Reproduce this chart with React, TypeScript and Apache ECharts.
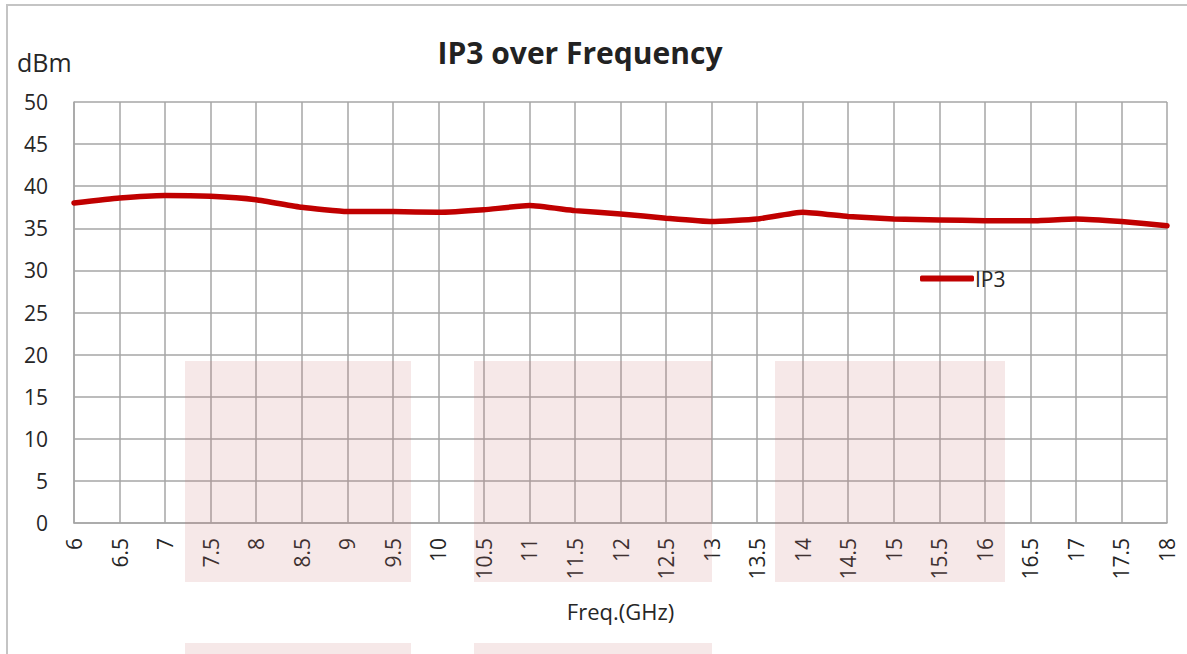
import React, { useEffect, useRef } from "react";
import * as echarts from "echarts";

const freqs = ["6","6.5","7","7.5","8","8.5","9","9.5","10","10.5","11","11.5","12","12.5","13","13.5","14","14.5","15","15.5","16","16.5","17","17.5","18"];
const ip3 = [38.0,38.6,38.9,38.8,38.4,37.5,37.0,37.0,36.9,37.2,37.7,37.1,36.7,36.2,35.8,36.1,36.9,36.4,36.1,36.0,35.9,35.9,36.1,35.8,35.3];
const yTicks = { min: 0, max: 50, interval: 5 };

const FONT = "'Open Sans', 'Liberation Sans', sans-serif";
const GRID = "#a6a6a6";

export default function App() {
  const ref = useRef<HTMLDivElement>(null);
  useEffect(() => {
    const chart = echarts.init(ref.current!, null, { renderer: "svg" });
    const pink = "rgba(200,110,115,0.16)";
    chart.setOption({
      animation: false,
      backgroundColor: "#ffffff",
      title: {
        text: "IP3 over Frequency",
        left: 575,
        top: 32,
        textAlign: "center",
        textStyle: { fontFamily: FONT, fontSize: 30, fontWeight: "bold", color: "#222" },
      },
      legend: {
        left: 915,
        top: 263,
        itemWidth: 54,
        itemHeight: 6,
        itemGap: 0,
        textStyle: { fontFamily: FONT, fontSize: 21, color: "#262626", padding: [0, 0, 0, -4] },
        data: [{ name: "IP3", icon: "roundRect" }],
      },
      grid: { left: 74, top: 102, right: 20, bottom: 131, containLabel: false },
      xAxis: {
        type: "category",
        data: freqs,
        boundaryGap: false,
        name: "Freq.(GHz)",
        nameLocation: "middle",
        nameGap: 77,
        nameTextStyle: { fontFamily: FONT, fontSize: 22, color: "#262626" },
        axisLine: { show: true, lineStyle: { color: GRID, width: 1.5 } },
        axisTick: { show: false },
        axisLabel: { rotate: 90, fontFamily: FONT, fontSize: 21, color: "#262626", margin: 15, interval: 0 },
        splitLine: { show: true, interval: 0, lineStyle: { color: GRID, width: 1.5 } },
      },
      yAxis: {
        type: "value",
        min: yTicks.min,
        max: yTicks.max,
        interval: yTicks.interval,
        axisLine: { show: true, lineStyle: { color: GRID, width: 1.5 } },
        axisTick: { show: false },
        axisLabel: { fontFamily: FONT, fontSize: 21, color: "#262626", margin: 26 },
        splitLine: { show: true, lineStyle: { color: GRID, width: 1.5 } },
      },
      series: [
        {
          name: "IP3",
          type: "line",
          data: ip3,
          symbol: "none",
          smooth: 0.15,
          color: "#c00000",
          lineStyle: { color: "#c00000", width: 5.5, cap: "round" },
          z: 3,
        },
      ],
      graphic: [
        {
          type: "text",
          left: 17,
          top: 49,
          style: { text: "dBm", fontFamily: FONT, fontSize: 25, fill: "#262626" },
        },
        {
          type: "rect",
          shape: { x: 7, y: 5, width: 1200, height: 700 },
          style: { fill: "none", stroke: "#c4c4c4", lineWidth: 2 },
          silent: true,
        },
        { type: "rect", shape: { x: 185, y: 361, width: 226, height: 221 }, style: { fill: pink }, z: 10, silent: true },
        { type: "rect", shape: { x: 474, y: 361, width: 238, height: 221 }, style: { fill: pink }, z: 10, silent: true },
        { type: "rect", shape: { x: 775, y: 361, width: 230, height: 221 }, style: { fill: pink }, z: 10, silent: true },
        { type: "rect", shape: { x: 185, y: 643, width: 226, height: 20 }, style: { fill: pink }, z: 10, silent: true },
        { type: "rect", shape: { x: 474, y: 643, width: 238, height: 20 }, style: { fill: pink }, z: 10, silent: true },
      ],
    });
    return () => chart.dispose();
  }, []);
  return <div ref={ref} style={{ position: "fixed", left: 0, top: 0, width: 1187, height: 654 }} />;
}
